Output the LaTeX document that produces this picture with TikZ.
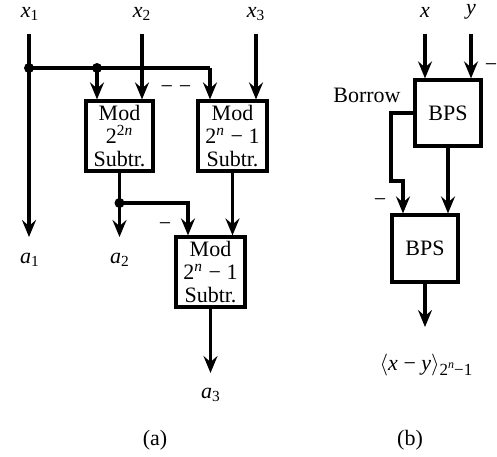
\documentclass[tikz,border=0pt]{standalone}
\usepackage{fontspec}
\setmainfont{Liberation Serif}
\usetikzlibrary{arrows.meta}
\begin{document}
\begin{tikzpicture}[x=0.5pt,y=-0.5pt,
  every node/.style={font=\fontsize{11}{11.5}\selectfont},
  wire/.style={line width=1.6pt},
  arr/.style={wire,-{Stealth[length=8.5pt,width=7pt,inset=3pt]}},
  blk/.style={draw,line width=1.6pt,inner sep=0pt,align=center},
  lbl/.style={inner sep=0pt},
  dot/.style={circle,fill,inner sep=0pt,minimum size=5pt}]
\useasboundingbox (0,0) rectangle (497,456);
% ---------- panel (a)
\node[blk,minimum width=33.5pt,minimum height=35pt] (box1) at (119.5,136) {Mod\\2\textsuperscript{2\textit{n}}\\Subtr.};
\node[blk,minimum width=34.5pt,minimum height=35pt] (box2) at (232.5,136) {Mod\\2\textsuperscript{\textit{n}} − 1\\Subtr.};
\node[blk,minimum width=34.5pt,minimum height=35pt] (box3) at (210.5,272) {Mod\\2\textsuperscript{\textit{n}} − 1\\Subtr.};
\node[lbl] (x1) at (30,14) {\textit{x}\textsubscript{1}};
\node[lbl] (x2) at (142,14) {\textit{x}\textsubscript{2}};
\node[lbl] (x3) at (256,14) {\textit{x}\textsubscript{3}};
\node[lbl] (a1) at (30,260) {\textit{a}\textsubscript{1}};
\node[lbl] (a2) at (120,260) {\textit{a}\textsubscript{2}};
\node[lbl] (a3) at (211,395) {\textit{a}\textsubscript{3}};
\node[lbl] (dd) at (176,90) {−\hspace{3pt}−};
\node[lbl] (m1) at (165,227) {−};
\coordinate (x1s) at (29,34);
\coordinate (x2s) at (142,34);
\coordinate (x3s) at (256,34);
\coordinate (j1) at (29,68);
\coordinate (j2) at (97,68);
\coordinate (t2) at (210,68);
\coordinate (j3) at (119.5,203);
\coordinate (k3) at (188,203);
\coordinate (a1t) at (29,237);
\coordinate (a2t) at (119.5,237);
\coordinate (a3t) at (210.5,373);
\draw[arr] (x1s) -- (a1t);
\draw[wire] (j1) -- (t2);
\draw[arr] (j2) -- (j2 |- box1.north);
\draw[arr] (t2) -- (t2 |- box2.north);
\draw[arr] (x2s) -- (x2s |- box1.north);
\draw[arr] (x3s) -- (x3s |- box2.north);
\draw[arr] (box1.south) -- (a2t);
\draw[arr] (j3) -- (k3) -- (k3 |- box3.north);
\draw[arr] (box2.south) -- (box2.south |- box3.north);
\draw[arr] (box3.south) -- (a3t);
\node[dot] at (j1) {};
\node[dot] at (j2) {};
\node[dot] at (j3) {};
% ---------- panel (b)
\node[blk,minimum width=33pt,minimum height=33pt] (bps1) at (448,113) {BPS};
\node[blk,minimum width=33pt,minimum height=33.5pt] (bps2) at (425,248.5) {BPS};
\node[lbl] (xl) at (425,12) {\textit{x}};
\node[lbl] (yl) at (471,12) {\textit{y}};
\node[lbl] (m2) at (491,68) {−};
\node[lbl] (bor) at (367,95) {Borrow};
\node[lbl] (m3) at (380,203) {−};
\node[lbl] (out) at (426,365) {$\langle$\textit{x} − \textit{y}$\rangle$\raisebox{-2.5pt}{\fontsize{8.5}{9}\selectfont 2\raisebox{3.5pt}{\fontsize{6}{6}\selectfont\textit{n}}−1}};
\coordinate (xs) at (425,34);
\coordinate (ys) at (471,34);
\coordinate (b1) at (391,113);
\coordinate (b2) at (391,181);
\coordinate (b3) at (403,181);
\coordinate (ot) at (425,327);
\draw[arr] (xs) -- (xs |- bps1.north);
\draw[arr] (ys) -- (ys |- bps1.north);
\draw[arr] (bps1.west) -- (b1) -- (b2) -- (b3) -- (b3 |- bps2.north);
\draw[arr] (bps1.south) -- (bps1.south |- bps2.north);
\draw[arr] (bps2.south) -- (ot);
% captions
\node[lbl] (capa) at (155,440) {(a)};
\node[lbl] (capb) at (410,440) {(b)};
\end{tikzpicture}
\end{document}
